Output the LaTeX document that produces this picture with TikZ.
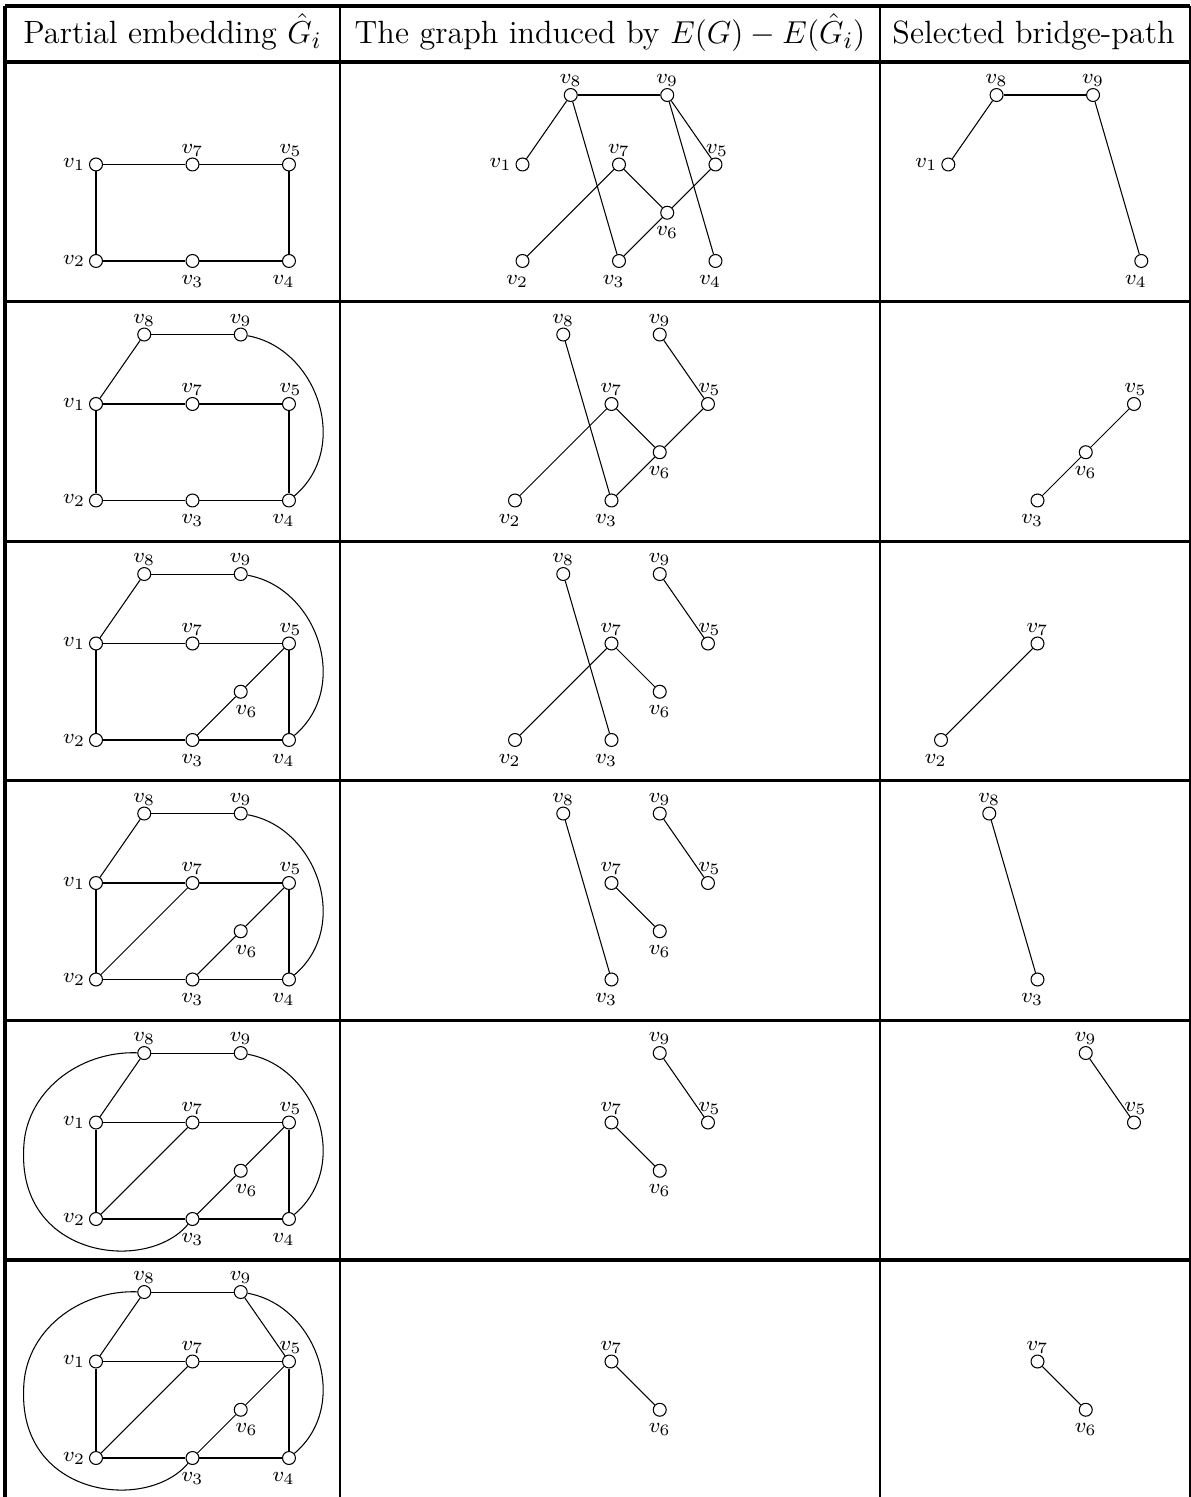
\documentclass[tikz,border=0pt]{standalone}
\usepackage{amsmath}

\tikzset{
  vtx/.style={circle, draw, minimum size=4.9pt, inner sep=0pt},
  lbl/.style={font=\fontsize{8.5}{10}\selectfont, inner sep=1.3pt},
  head/.style={anchor=base, font=\fontsize{12.2}{14}\selectfont},
  rule/.style={line width=1.2pt},
  colline/.style={line width=0.7pt},
  % label places, used as  <place>=<text>
  lft/.style={label={[lbl]180:#1}},
  abv/.style={label={[lbl,label distance=-1pt]90:#1}},
  abvr/.style={label={[lbl,label distance=-1pt,xshift=0.6pt]90:#1}},
  blw/.style={label={[lbl,label distance=1.2pt]-90:#1}},
  blwl/.style={label={[lbl,label distance=1.2pt,xshift=-2pt]-90:#1}},
  blwr/.style={label={[lbl,label distance=1.2pt,xshift=2.2pt]-90:#1}},
  % vertex positions, in grid units, v1 at the origin
  at1/.style={at={(0,0)}},   at2/.style={at={(0,-1)}},
  at3/.style={at={(1,-1)}},  at4/.style={at={(2,-1)}},
  at5/.style={at={(2,0)}},   at6/.style={at={(1.5,-0.5)}},
  at7/.style={at={(1,0)}},   at8/.style={at={(0.5,0.72)}},
  at9/.style={at={(1.5,0.72)}},
}
\def\gu{36.55pt}

\begin{document}
\begin{tikzpicture}[x=0.3788pt,y=0.3788pt]
  \useasboundingbox (0,0) rectangle (1190,-1497);

  % --- table frame and rules ---
  \draw[rule] (5,-6) -- (1190,-6);
  \foreach \y in {62,301.6,541.2,780.8,1020.4,1260} \draw[rule] (5,-\y) -- (1190,-\y);
  \draw[rule] (5,-6) -- (5,-1497);
  \draw[colline] (1189.6,-6) -- (1189.6,-1497);
  \foreach \x in {340,880} \draw[colline] (\x,-6) -- (\x,-1497);

  % --- column heads ---
  \node[head] (h1) at (172.5,-44) {Partial embedding $\hat{G}_i$};
  \node[head] (h2) at (610,-44) {The graph induced by $E(G)-E(\hat{G}_i)$};
  \node[head] (h3) at (1033.5,-44) {Selected bridge-path};

  % ===== row 1 =====
  \begin{scope}[shift={(96,-164.5)},x=\gu,y=\gu,name prefix=a1-]
    \foreach \n/\p in {1/lft,2/lft,3/blw,4/blwl,5/abvr,7/abv}
      \node[vtx,at\n,\p=$v_\n$] (v\n) {};
    \foreach \s/\t in {1/7,7/5,5/4,1/2,2/3,3/4} \draw (v\s) -- (v\t);
  \end{scope}
  \begin{scope}[shift={(522.5,-164.5)},x=\gu,y=\gu,name prefix=b1-]
    \foreach \n/\p in {1/lft,2/blwl,3/blwl,4/blwl,5/abvr,6/blw,7/abv,8/abv,9/abv}
      \node[vtx,at\n,\p=$v_\n$] (v\n) {};
    \foreach \s/\t in {8/9,8/1,8/3,9/5,9/4,7/2,7/6,6/5,6/3} \draw (v\s) -- (v\t);
  \end{scope}
  \begin{scope}[shift={(948.3,-164.5)},x=\gu,y=\gu,name prefix=c1-]
    \foreach \n/\p in {1/lft,4/blwl,8/abv,9/abv}
      \node[vtx,at\n,\p=$v_\n$] (v\n) {};
    \foreach \s/\t in {1/8,8/9,9/4} \draw (v\s) -- (v\t);
  \end{scope}

  % ===== row 2 =====
  \begin{scope}[shift={(96,-404)},x=\gu,y=\gu,name prefix=a2-]
    \foreach \n/\p in {1/lft,2/lft,3/blw,4/blwl,5/abvr,7/abv,8/abv,9/abv}
      \node[vtx,at\n,\p=$v_\n$] (v\n) {};
    \foreach \s/\t in {1/7,7/5,5/4,1/2,2/3,3/4,1/8,8/9} \draw (v\s) -- (v\t);
    \draw (v9) .. controls (2.29,0.58) and (2.65,-0.45) .. (v4);
  \end{scope}
  \begin{scope}[shift={(515,-404)},x=\gu,y=\gu,name prefix=b2-]
    \foreach \n/\p in {2/blwl,3/blwl,5/abvr,6/blw,7/abv,8/abv,9/abv}
      \node[vtx,at\n,\p=$v_\n$] (v\n) {};
    \foreach \s/\t in {8/3,9/5,7/2,7/6,6/5,6/3} \draw (v\s) -- (v\t);
  \end{scope}
  \begin{scope}[shift={(941,-404)},x=\gu,y=\gu,name prefix=c2-]
    \foreach \n/\p in {3/blwl,5/abvr,6/blw}
      \node[vtx,at\n,\p=$v_\n$] (v\n) {};
    \foreach \s/\t in {5/6,6/3} \draw (v\s) -- (v\t);
  \end{scope}

  % ===== row 3 =====
  \begin{scope}[shift={(96,-643.5)},x=\gu,y=\gu,name prefix=a3-]
    \foreach \n/\p in {1/lft,2/lft,3/blw,4/blwl,5/abvr,6/blwr,7/abv,8/abv,9/abv}
      \node[vtx,at\n,\p=$v_\n$] (v\n) {};
    \foreach \s/\t in {1/7,7/5,5/4,1/2,2/3,3/4,1/8,8/9,5/6,6/3} \draw (v\s) -- (v\t);
    \draw (v9) .. controls (2.29,0.58) and (2.65,-0.45) .. (v4);
  \end{scope}
  \begin{scope}[shift={(515,-643.5)},x=\gu,y=\gu,name prefix=b3-]
    \foreach \n/\p in {2/blwl,3/blwl,5/abvr,6/blw,7/abv,8/abv,9/abv}
      \node[vtx,at\n,\p=$v_\n$] (v\n) {};
    \foreach \s/\t in {8/3,9/5,7/2,7/6} \draw (v\s) -- (v\t);
  \end{scope}
  \begin{scope}[shift={(941,-643.5)},x=\gu,y=\gu,name prefix=c3-]
    \foreach \n/\p in {2/blwl,7/abv}
      \node[vtx,at\n,\p=$v_\n$] (v\n) {};
    \draw (v7) -- (v2);
  \end{scope}

  % ===== row 4 =====
  \begin{scope}[shift={(96,-883)},x=\gu,y=\gu,name prefix=a4-]
    \foreach \n/\p in {1/lft,2/lft,3/blw,4/blwl,5/abvr,6/blwr,7/abv,8/abv,9/abv}
      \node[vtx,at\n,\p=$v_\n$] (v\n) {};
    \foreach \s/\t in {1/7,7/5,5/4,1/2,2/3,3/4,1/8,8/9,5/6,6/3,7/2} \draw (v\s) -- (v\t);
    \draw (v9) .. controls (2.29,0.58) and (2.65,-0.45) .. (v4);
  \end{scope}
  \begin{scope}[shift={(515,-883)},x=\gu,y=\gu,name prefix=b4-]
    \foreach \n/\p in {3/blwl,5/abvr,6/blw,7/abv,8/abv,9/abv}
      \node[vtx,at\n,\p=$v_\n$] (v\n) {};
    \foreach \s/\t in {8/3,9/5,7/6} \draw (v\s) -- (v\t);
  \end{scope}
  \begin{scope}[shift={(941,-883)},x=\gu,y=\gu,name prefix=c4-]
    \foreach \n/\p in {3/blwl,8/abv}
      \node[vtx,at\n,\p=$v_\n$] (v\n) {};
    \draw (v8) -- (v3);
  \end{scope}

  % ===== row 5 =====
  \begin{scope}[shift={(96,-1122.5)},x=\gu,y=\gu,name prefix=a5-]
    \foreach \n/\p in {1/lft,2/lft,3/blw,4/blwl,5/abvr,6/blwr,7/abv,8/abv,9/abv}
      \node[vtx,at\n,\p=$v_\n$] (v\n) {};
    \foreach \s/\t in {1/7,7/5,5/4,1/2,2/3,3/4,1/8,8/9,5/6,6/3,7/2} \draw (v\s) -- (v\t);
    \draw (v9) .. controls (2.29,0.58) and (2.65,-0.45) .. (v4);
    \coordinate (w) at (-0.75,-0.3);
    \draw (v8) to[out=178,in=90] (w)
      to[out=-92,in=230,out looseness=1.5,in looseness=1] (v3);
  \end{scope}
  \begin{scope}[shift={(515,-1122.5)},x=\gu,y=\gu,name prefix=b5-]
    \foreach \n/\p in {5/abvr,6/blw,7/abv,9/abv}
      \node[vtx,at\n,\p=$v_\n$] (v\n) {};
    \foreach \s/\t in {9/5,7/6} \draw (v\s) -- (v\t);
  \end{scope}
  \begin{scope}[shift={(941,-1122.5)},x=\gu,y=\gu,name prefix=c5-]
    \foreach \n/\p in {5/abvr,9/abv}
      \node[vtx,at\n,\p=$v_\n$] (v\n) {};
    \draw (v9) -- (v5);
  \end{scope}

  % ===== row 6 =====
  \begin{scope}[shift={(96,-1361.5)},x=\gu,y=\gu,name prefix=a6-]
    \foreach \n/\p in {1/lft,2/lft,3/blw,4/blwl,5/abvr,6/blwr,7/abv,8/abv,9/abv}
      \node[vtx,at\n,\p=$v_\n$] (v\n) {};
    \foreach \s/\t in {1/7,7/5,5/4,1/2,2/3,3/4,1/8,8/9,5/6,6/3,7/2,9/5} \draw (v\s) -- (v\t);
    \draw (v9) .. controls (2.29,0.58) and (2.65,-0.45) .. (v4);
    \coordinate (w) at (-0.75,-0.3);
    \draw (v8) to[out=178,in=90] (w)
      to[out=-92,in=230,out looseness=1.5,in looseness=1] (v3);
  \end{scope}
  \begin{scope}[shift={(515,-1361.5)},x=\gu,y=\gu,name prefix=b6-]
    \foreach \n/\p in {6/blw,7/abv}
      \node[vtx,at\n,\p=$v_\n$] (v\n) {};
    \draw (v7) -- (v6);
  \end{scope}
  \begin{scope}[shift={(941,-1361.5)},x=\gu,y=\gu,name prefix=c6-]
    \foreach \n/\p in {6/blw,7/abv}
      \node[vtx,at\n,\p=$v_\n$] (v\n) {};
    \draw (v7) -- (v6);
  \end{scope}

\end{tikzpicture}
\end{document}
